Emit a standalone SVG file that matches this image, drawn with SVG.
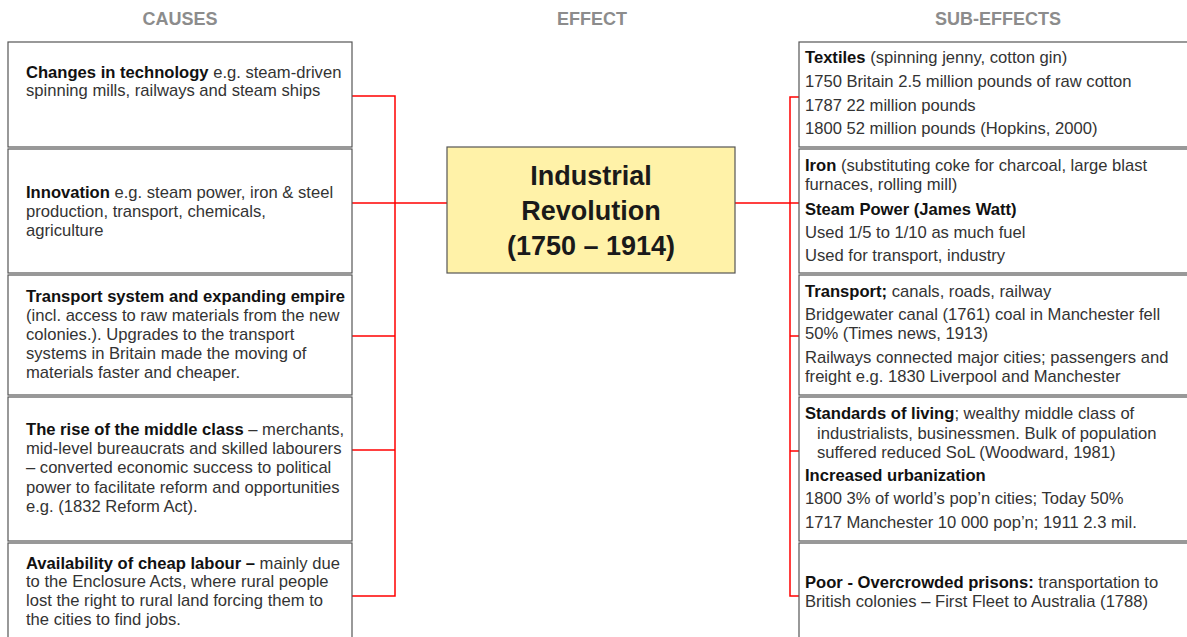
<svg xmlns="http://www.w3.org/2000/svg" width="1187" height="637" viewBox="0 0 1187 637">
<style>
.hdr{font-family:"Liberation Sans",Arial,sans-serif;font-size:18px;font-weight:bold;fill:#8c8c8c;text-anchor:middle}
.box{fill:#ffffff;stroke:#555555;stroke-width:1.2}
.t{font-family:"Liberation Sans",Arial,sans-serif;font-size:16.6px;fill:#333333}
.b{font-weight:bold;fill:#111111}
.ctr{font-family:"Liberation Sans",Arial,sans-serif;font-size:27px;font-weight:bold;fill:#1a1a1a;text-anchor:middle}
.con{fill:none;stroke:#ff0000;stroke-width:1.5}
</style>
<rect width="1187" height="637" fill="#ffffff"/>
<g id="headers">
<text class="hdr" x="180" y="25">CAUSES</text>
<text class="hdr" x="592" y="25">EFFECT</text>
<text class="hdr" x="998" y="25">SUB-EFFECTS</text>
</g>
<g id="connectors">
<path class="con" d="M352,96 H395 V596 H352"/>
<path class="con" d="M352,203 H447"/>
<path class="con" d="M352,336 H395"/>
<path class="con" d="M352,450 H395"/>
<path class="con" d="M799,97 H790 V596 H799"/>
<path class="con" d="M735,203 H799"/>
<path class="con" d="M790,336 H799"/>
<path class="con" d="M790,451 H799"/>
</g>
<g id="cause1">
<rect class="box" x="8" y="42" width="344" height="105"/>
<text class="t" x="26" y="78"><tspan class="b">Changes in technology</tspan> e.g. steam-driven</text>
<text class="t" x="26" y="96">spinning mills, railways and steam ships</text>
</g>
<g id="cause2">
<rect class="box" x="8" y="149" width="344" height="124"/>
<text class="t" x="26" y="198"><tspan class="b">Innovation</tspan> e.g. steam power, iron &amp; steel</text>
<text class="t" x="26" y="217">production, transport, chemicals,</text>
<text class="t" x="26" y="236">agriculture</text>
</g>
<g id="cause3">
<rect class="box" x="8" y="275" width="344" height="120"/>
<text class="t" x="26" y="302"><tspan class="b">Transport system and expanding empire</tspan></text>
<text class="t" x="26" y="321">(incl. access to raw materials from the new</text>
<text class="t" x="26" y="340">colonies.). Upgrades to the transport</text>
<text class="t" x="26" y="359">systems in Britain made the moving of</text>
<text class="t" x="26" y="378">materials faster and cheaper.</text>
</g>
<g id="cause4">
<rect class="box" x="8" y="397" width="344" height="144"/>
<text class="t" x="26" y="435"><tspan class="b">The rise of the middle class</tspan> – merchants,</text>
<text class="t" x="26" y="454">mid-level bureaucrats and skilled labourers</text>
<text class="t" x="26" y="473">– converted economic success to political</text>
<text class="t" x="26" y="493">power to facilitate reform and opportunities</text>
<text class="t" x="26" y="512">e.g. (1832 Reform Act).</text>
</g>
<g id="cause5">
<rect class="box" x="8" y="543" width="344" height="120"/>
<text class="t" x="26" y="569"><tspan class="b">Availability of cheap labour –</tspan> mainly due</text>
<text class="t" x="26" y="587">to the Enclosure Acts, where rural people</text>
<text class="t" x="26" y="606">lost the right to rural land forcing them to</text>
<text class="t" x="26" y="625">the cities to find jobs.</text>
</g>
<g id="effect">
<rect x="447" y="147" width="288" height="126" fill="#fff2a8" stroke="#555555" stroke-width="1.2"/>
<text class="ctr" x="591" y="185">Industrial</text>
<text class="ctr" x="591" y="220">Revolution</text>
<text class="ctr" x="591" y="255">(1750 – 1914)</text>
</g>
<g id="sub1">
<rect class="box" x="799" y="42" width="400" height="105"/>
<text class="t" x="805" y="63"><tspan class="b">Textiles</tspan> (spinning jenny, cotton gin)</text>
<text class="t" x="805" y="87">1750 Britain 2.5 million pounds of raw cotton</text>
<text class="t" x="805" y="111">1787 22 million pounds</text>
<text class="t" x="805" y="134">1800 52 million pounds (Hopkins, 2000)</text>
</g>
<g id="sub2">
<rect class="box" x="799" y="149" width="400" height="124"/>
<text class="t" x="805" y="171"><tspan class="b">Iron</tspan> (substituting coke for charcoal, large blast</text>
<text class="t" x="805" y="190">furnaces, rolling mill)</text>
<text class="t b" x="805" y="215">Steam Power (James Watt)</text>
<text class="t" x="805" y="238">Used 1/5 to 1/10 as much fuel</text>
<text class="t" x="805" y="261">Used for transport, industry</text>
</g>
<g id="sub3">
<rect class="box" x="799" y="275" width="400" height="120"/>
<text class="t" x="805" y="297"><tspan class="b">Transport;</tspan> canals, roads, railway</text>
<text class="t" x="805" y="320">Bridgewater canal (1761) coal in Manchester fell</text>
<text class="t" x="805" y="339">50% (Times news, 1913)</text>
<text class="t" x="805" y="363">Railways connected major cities; passengers and</text>
<text class="t" x="805" y="382">freight e.g. 1830 Liverpool and Manchester</text>
</g>
<g id="sub4">
<rect class="box" x="799" y="397" width="400" height="144"/>
<text class="t" x="805" y="419"><tspan class="b">Standards of living</tspan>; wealthy middle class of</text>
<text class="t" x="817" y="439">industrialists, businessmen. Bulk of population</text>
<text class="t" x="817" y="458">suffered reduced SoL (Woodward, 1981)</text>
<text class="t b" x="805" y="481">Increased urbanization</text>
<text class="t" x="805" y="504">1800 3% of world’s pop’n cities; Today 50%</text>
<text class="t" x="805" y="528">1717 Manchester 10 000 pop’n; 1911 2.3 mil.</text>
</g>
<g id="sub5">
<rect class="box" x="799" y="543" width="400" height="120"/>
<text class="t" x="805" y="588"><tspan class="b">Poor - Overcrowded prisons:</tspan> transportation to</text>
<text class="t" x="805" y="607">British colonies – First Fleet to Australia (1788)</text>
</g>
</svg>
